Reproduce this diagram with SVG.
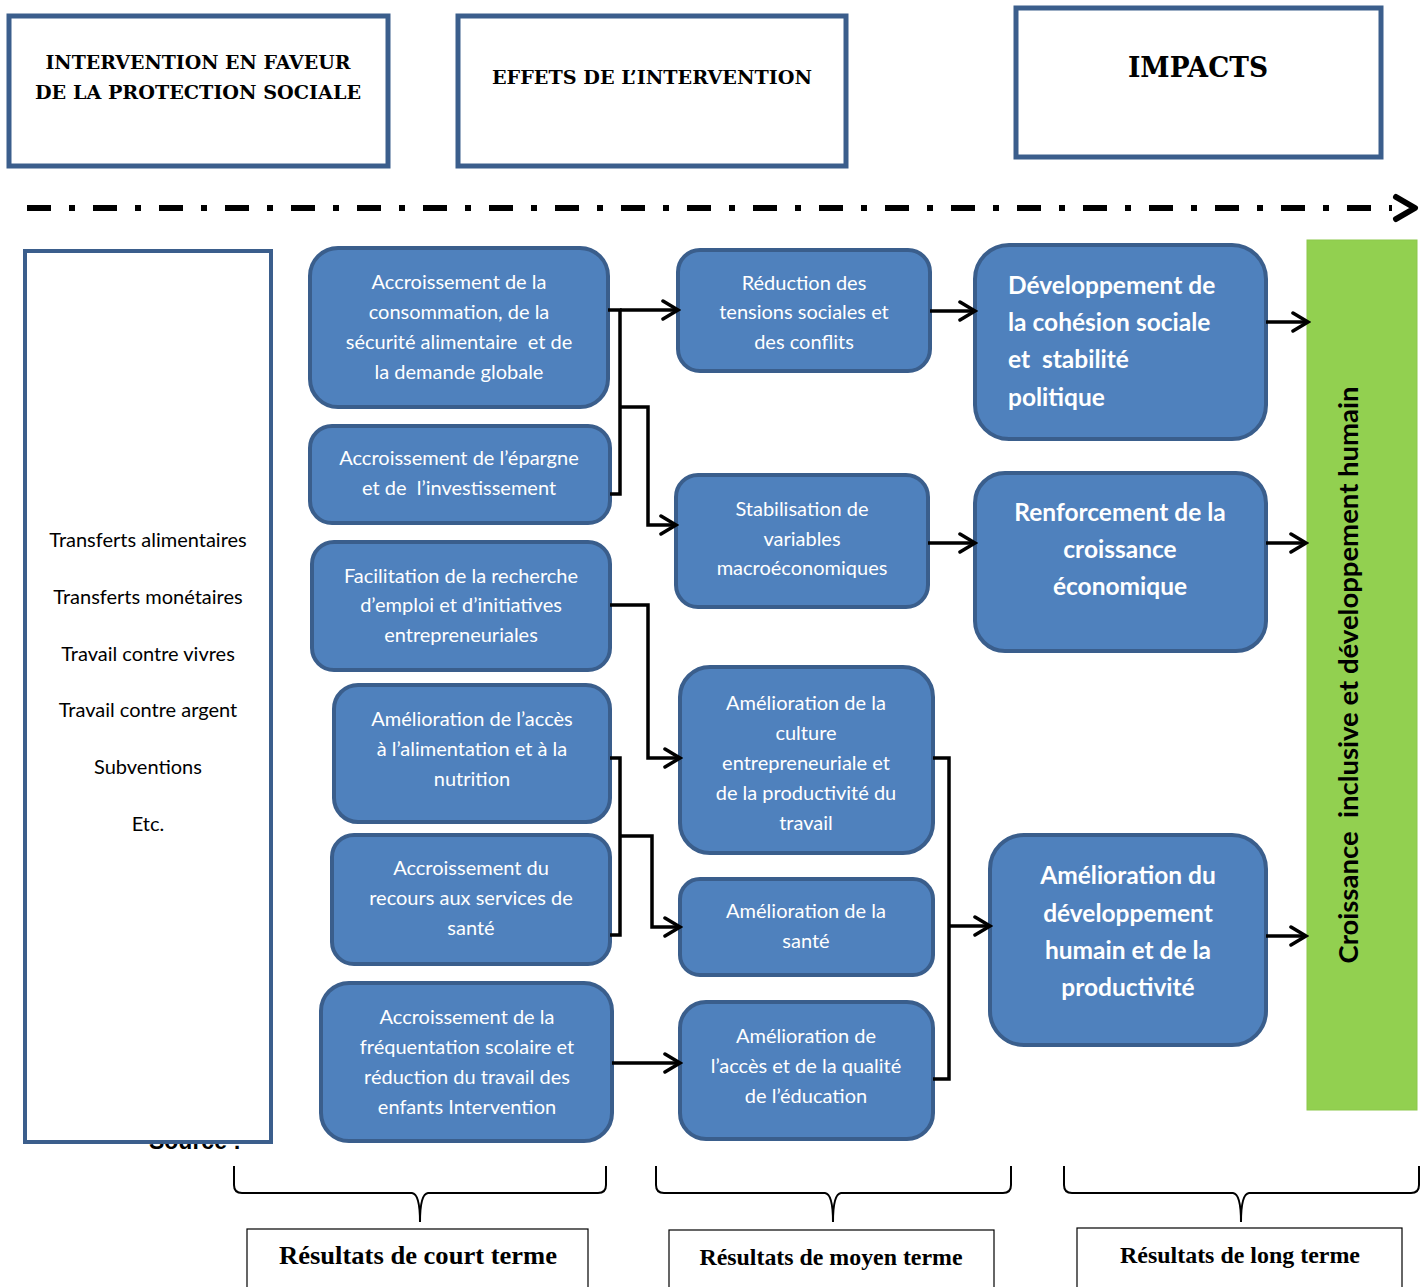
<svg xmlns="http://www.w3.org/2000/svg" width="1426" height="1287" viewBox="0 0 1426 1287">
<style>
.hdr{fill:#fff;stroke:#3B5E8C;stroke-width:5}
.hdt{font-family:"DejaVu Serif","Liberation Serif",serif;font-weight:bold;fill:#000;text-anchor:middle}
.nd{fill:#4F81BD;stroke:#3A5E8C;stroke-width:4}
.nt{font-family:Lato,"Open Sans",sans-serif;font-size:20px;fill:#fff;text-anchor:middle}
.bt{font-family:Lato,"Open Sans",sans-serif;font-weight:bold;font-size:24.5px;fill:#fff}
.lt{font-family:Lato,"Open Sans",sans-serif;font-size:20px;fill:#000;text-anchor:middle}
.cn{fill:none;stroke:#000;stroke-width:3.5}
.br{fill:none;stroke:#000;stroke-width:2}
.lb{fill:#fff;stroke:#000;stroke-width:1.2}
.lbt{font-family:"Liberation Serif","Times New Roman",serif;font-weight:bold;fill:#000;text-anchor:middle}
</style>
<defs>
<marker id="ar" markerUnits="userSpaceOnUse" markerWidth="22" markerHeight="26" viewBox="0 0 22 26" refX="19" refY="13" orient="auto">
<path d="M4,4 L19,13 L4,22" fill="none" stroke="#000" stroke-width="3.5" stroke-linecap="round" stroke-linejoin="miter"/>
</marker>
</defs>
<rect width="1426" height="1287" fill="#fff"/>

<g id="header-intervention">
<rect class="hdr" x="9" y="16" width="379" height="150"/>
<text class="hdt" font-size="19" x="198" y="69" textLength="305" lengthAdjust="spacingAndGlyphs">INTERVENTION EN FAVEUR</text>
<text class="hdt" font-size="19" x="198" y="99" textLength="326" lengthAdjust="spacingAndGlyphs">DE LA PROTECTION SOCIALE</text>
</g>
<g id="header-effets">
<rect class="hdr" x="458" y="16" width="388" height="150"/>
<text class="hdt" font-size="19" x="652" y="84" textLength="320" lengthAdjust="spacingAndGlyphs">EFFETS DE L’INTERVENTION</text>
</g>
<g id="header-impacts">
<rect class="hdr" x="1016" y="8" width="365" height="149"/>
<text class="hdt" font-size="27" x="1198" y="77" textLength="140" lengthAdjust="spacingAndGlyphs">IMPACTS</text>
</g>

<g id="timeline">
<line x1="27" y1="208" x2="1392" y2="208" stroke="#000" stroke-width="6" stroke-dasharray="24 18 6 18"/>
<path d="M1396,197 L1415,208 L1396,219" fill="none" stroke="#000" stroke-width="6" stroke-linecap="round" stroke-linejoin="round"/>
</g>

<text x="195" y="1149" font-family="Liberation Sans, Arial, sans-serif" font-weight="bold" font-size="23" text-anchor="middle" fill="#000">Source :</text>
<g id="interventions">
<rect x="25" y="251" width="246" height="891" fill="#fff" stroke="#3B5E8C" stroke-width="4"/>
<text class="lt" x="148" y="547">Transferts alimentaires</text>
<text class="lt" x="148" y="604">Transferts monétaires</text>
<text class="lt" x="148" y="661">Travail contre vivres</text>
<text class="lt" x="148" y="717">Travail contre argent</text>
<text class="lt" x="148" y="774">Subventions</text>
<text class="lt" x="148" y="831">Etc.</text>
</g>

<g id="n1"><rect class="nd" x="310" y="248" width="298" height="159" rx="28"/>
<text class="nt" x="459" y="289">Accroissement de la</text>
<text class="nt" x="459" y="319">consommation, de la</text>
<text class="nt" x="459" y="349">sécurité alimentaire&#160; et de</text>
<text class="nt" x="459" y="379">la demande globale</text></g>
<g id="n2"><rect class="nd" x="310" y="426" width="300" height="97" rx="22"/>
<text class="nt" x="459" y="465">Accroissement de l’épargne</text>
<text class="nt" x="459" y="495">et de&#160; l’investissement</text></g>
<g id="n3"><rect class="nd" x="312" y="542" width="298" height="128" rx="22"/>
<text class="nt" x="461" y="583">Facilitation de la recherche</text>
<text class="nt" x="461" y="612">d’emploi et d’initiatives</text>
<text class="nt" x="461" y="642">entrepreneuriales</text></g>
<g id="n4"><rect class="nd" x="334" y="685" width="276" height="137" rx="24"/>
<text class="nt" x="472" y="726">Amélioration de l’accès</text>
<text class="nt" x="472" y="756">à l’alimentation et à la</text>
<text class="nt" x="472" y="786">nutrition</text></g>
<g id="n5"><rect class="nd" x="332" y="835" width="278" height="129" rx="22"/>
<text class="nt" x="471" y="875">Accroissement du</text>
<text class="nt" x="471" y="905">recours aux services de</text>
<text class="nt" x="471" y="935">santé</text></g>
<g id="n6"><rect class="nd" x="321" y="983" width="291" height="158" rx="28"/>
<text class="nt" x="467" y="1024">Accroissement de la</text>
<text class="nt" x="467" y="1054">fréquentation scolaire et</text>
<text class="nt" x="467" y="1084">réduction du travail des</text>
<text class="nt" x="467" y="1114">enfants Intervention</text></g>

<g id="m1"><rect class="nd" x="678" y="250" width="252" height="121" rx="22"/>
<text class="nt" x="804" y="290">Réduction des</text>
<text class="nt" x="804" y="319">tensions sociales et</text>
<text class="nt" x="804" y="349">des conflits</text></g>
<g id="m2"><rect class="nd" x="676" y="475" width="252" height="132" rx="22"/>
<text class="nt" x="802" y="516">Stabilisation de</text>
<text class="nt" x="802" y="546">variables</text>
<text class="nt" x="802" y="575">macroéconomiques</text></g>
<g id="m3"><rect class="nd" x="680" y="667" width="253" height="186" rx="30"/>
<text class="nt" x="806" y="710">Amélioration de la</text>
<text class="nt" x="806" y="740">culture</text>
<text class="nt" x="806" y="770">entrepreneuriale et</text>
<text class="nt" x="806" y="800">de la productivité du</text>
<text class="nt" x="806" y="830">travail</text></g>
<g id="m4"><rect class="nd" x="680" y="879" width="253" height="96" rx="20"/>
<text class="nt" x="806" y="918">Amélioration de la</text>
<text class="nt" x="806" y="948">santé</text></g>
<g id="m5"><rect class="nd" x="680" y="1002" width="253" height="137" rx="26"/>
<text class="nt" x="806" y="1043">Amélioration de</text>
<text class="nt" x="806" y="1073">l’accès et de la qualité</text>
<text class="nt" x="806" y="1103">de l’éducation</text></g>

<g id="l1"><rect class="nd" x="975" y="245" width="291" height="194" rx="34"/>
<text class="bt" x="1008" y="294">Développement de</text>
<text class="bt" x="1008" y="331">la cohésion sociale</text>
<text class="bt" x="1008" y="368">et&#160; stabilité</text>
<text class="bt" x="1008" y="406">politique</text></g>
<g id="l2"><rect class="nd" x="975" y="473" width="291" height="178" rx="30"/>
<text class="bt" x="1120" y="521" text-anchor="middle">Renforcement de la</text>
<text class="bt" x="1120" y="558" text-anchor="middle">croissance</text>
<text class="bt" x="1120" y="595" text-anchor="middle">économique</text></g>
<g id="l3"><rect class="nd" x="990" y="835" width="276" height="210" rx="34"/>
<text class="bt" x="1128" y="884" text-anchor="middle">Amélioration du</text>
<text class="bt" x="1128" y="922" text-anchor="middle">développement</text>
<text class="bt" x="1128" y="959" text-anchor="middle">humain et de la</text>
<text class="bt" x="1128" y="996" text-anchor="middle">productivité</text></g>

<g id="goal">
<rect x="1307" y="240" width="110" height="870" fill="#92D050" stroke="#8CC84B" stroke-width="1"/>
<text transform="translate(1358,675) rotate(-90)" x="0" y="0" text-anchor="middle" font-family="Lato, 'Open Sans', sans-serif" font-weight="bold" font-size="26" fill="#000" textLength="577" lengthAdjust="spacingAndGlyphs">Croissance&#160; inclusive et développement humain</text>
</g>

<g id="connectors">
<path class="cn" d="M608,310 H620 V494 H610"/>
<path class="cn" d="M620,310 H678" marker-end="url(#ar)"/>
<path class="cn" d="M620,407 H648 V525 H676" marker-end="url(#ar)"/>
<path class="cn" d="M930,311 H975" marker-end="url(#ar)"/>
<path class="cn" d="M928,543 H975" marker-end="url(#ar)"/>
<path class="cn" d="M610,605 H648 V758 H680" marker-end="url(#ar)"/>
<path class="cn" d="M610,758 H620 V935 H610"/>
<path class="cn" d="M620,836 H652 V927 H680" marker-end="url(#ar)"/>
<path class="cn" d="M612,1063 H680" marker-end="url(#ar)"/>
<path class="cn" d="M933,758 H949 V1079 H933"/>
<path class="cn" d="M949,926 H990" marker-end="url(#ar)"/>
<path class="cn" d="M1266,322 H1308" marker-end="url(#ar)"/>
<path class="cn" d="M1266,543 H1306" marker-end="url(#ar)"/>
<path class="cn" d="M1266,936 H1306" marker-end="url(#ar)"/>
</g>

<g id="brace-court">
<path class="br" d="M234,1166 V1185 Q234,1193 242,1193 H412 Q420,1194 420,1222 Q420,1194 428,1193 H598 Q606,1193 606,1185 V1166"/>
<rect class="lb" x="247" y="1229" width="341" height="70"/>
<text class="lbt" font-size="26" x="418" y="1264" textLength="278" lengthAdjust="spacingAndGlyphs">Résultats de court terme</text>
</g>
<g id="brace-moyen">
<path class="br" d="M656,1166 V1185 Q656,1193 664,1193 H825 Q833,1194 833,1222 Q833,1194 841,1193 H1003 Q1011,1193 1011,1185 V1166"/>
<rect class="lb" x="669" y="1230" width="325" height="70"/>
<text class="lbt" font-size="24" x="831" y="1265" textLength="263" lengthAdjust="spacingAndGlyphs">Résultats de moyen terme</text>
</g>
<g id="brace-long">
<path class="br" d="M1064,1166 V1185 Q1064,1193 1072,1193 H1233 Q1241,1194 1241,1222 Q1241,1194 1249,1193 H1411 Q1419,1193 1419,1185 V1166"/>
<rect class="lb" x="1077" y="1228" width="325" height="70"/>
<text class="lbt" font-size="24" x="1240" y="1263" textLength="240" lengthAdjust="spacingAndGlyphs">Résultats de long terme</text>
</g>
</svg>
